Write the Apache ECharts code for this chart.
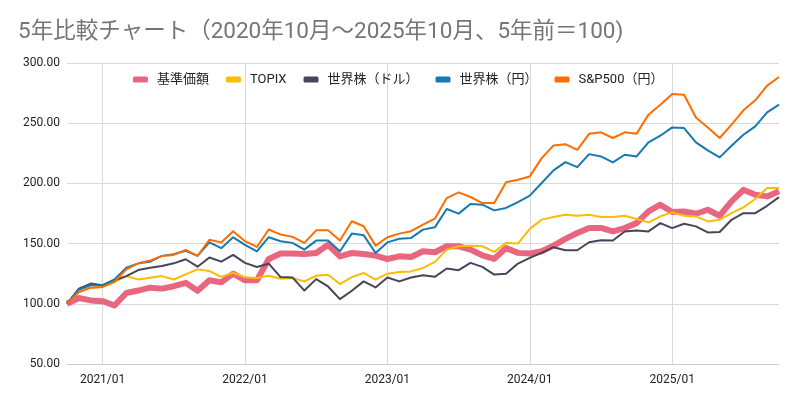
<!DOCTYPE html>
<html>
<head>
<meta charset="utf-8">
<script src="https://cdn.jsdelivr.net/npm/echarts@6/dist/echarts.min.js"></script>
<style>
html,body{margin:0;padding:0;background:#fff;}
#chart{width:800px;height:405px;}
</style>
</head>
<body>
<div id="chart"></div>
<script>
const categories = [
  '2020/10','2020/11','2020/12',
  '2021/01','2021/02','2021/03','2021/04','2021/05','2021/06','2021/07','2021/08','2021/09','2021/10','2021/11','2021/12',
  '2022/01','2022/02','2022/03','2022/04','2022/05','2022/06','2022/07','2022/08','2022/09','2022/10','2022/11','2022/12',
  '2023/01','2023/02','2023/03','2023/04','2023/05','2023/06','2023/07','2023/08','2023/09','2023/10','2023/11','2023/12',
  '2024/01','2024/02','2024/03','2024/04','2024/05','2024/06','2024/07','2024/08','2024/09','2024/10','2024/11','2024/12',
  '2025/01','2025/02','2025/03','2025/04','2025/05','2025/06','2025/07','2025/08','2025/09','2025/10'
];
const tickLabels = ['2021/01','2022/01','2023/01','2024/01','2025/01'];
const seriesNames = ['基準価額','TOPIX','世界株（ドル）','世界株（円）','S&P500（円）'];

const fund = [100,104.8,102.8,102.2,98.6,109,111,113.4,112.6,114.6,117.4,110.8,119.6,117.8,125,119.5,119.5,137.2,141.7,141.7,141.4,142.2,149,139.4,142.2,141.4,140,137.2,139.4,138.9,143.6,142.8,147.8,147.8,145,140.3,137.3,146.4,142.3,141.7,143.6,148.3,153.9,158.8,163,163,160.1,162.9,167,176.7,182.3,176.2,176.7,174.8,178.1,173.1,185,194.7,190.6,189.2,193.4];
const topix = [100,109.8,113.4,114,118.2,123,120.2,121.6,123,120.2,124.4,128.6,127.2,122.4,125.8,122,121.4,123.3,120.8,121.4,118.6,123.3,124.2,116.4,122.2,125.6,120,125,126.4,126.9,129.8,134.8,145,147.8,148.3,147.8,143.1,150.6,150,162.2,169.9,172.1,174,173.2,174,172.1,172,173.1,170.4,167.6,172.6,175.9,173.1,172.6,168.4,169.8,175.3,180.1,187,196.1,196.1];
const worldUsd = [100,112.6,116.8,115.4,119.6,123,128,130,131.4,133.6,137,130.8,138.4,135,140.6,134,130.6,133.3,122.2,121.9,111,120.5,114.4,103.9,110.8,118.6,113.6,121.9,118.6,121.9,123.8,122.4,129.3,127.9,134,130.7,124.3,124.9,133.4,138.1,142.3,147,144.5,144.5,151.1,152.7,152.6,160.1,160.9,160.1,167,162.9,166.5,164.3,159.3,159.6,169.8,175.3,175.3,181.4,188.6];
const worldJpy = [100,111.8,115.4,115.4,120.2,130,133.6,135,139.8,141.2,144,139.8,151,146.2,155.2,149,143.6,155.3,152,150.6,145,152.5,152.5,143.6,158.3,157,142.2,151,154,154.7,161.6,163.5,178.7,174.9,182.9,182.3,177.6,179.6,184.5,189.8,200.3,210.8,217.7,213.5,224.3,222.4,217.4,223.8,222.4,234.1,239.6,246.5,246,234.1,227.4,221.6,231.3,240.4,247.4,259,265.4];
const sp500Jpy = [100,109.8,113.4,114,118.2,128.6,133.6,135.9,139.8,140.6,144.8,139.8,153.2,151,160.2,152,147.2,161.7,157.5,155.6,150.6,161,161,152.5,168.6,164.4,148.3,155.3,158.3,160.3,165.8,170.7,187.8,192.5,188.7,183.7,183.7,201,203,205.8,221,231.5,232.6,227.9,241.2,242.4,237.7,242.4,241.3,257.1,265.4,274.2,273.7,254.8,246.5,237.7,248.8,260.7,269,281.2,288.4];

const colors = ['#e8667f','#fbbc04','#4a4458','#1779b0','#ff6d01'];
const widths = [6,2,2,2,2];
const dataSets = [fund, topix, worldUsd, worldJpy, sp500Jpy];

const font = 'Roboto, "Noto Sans CJK JP", sans-serif';
const isTick = (idx, val) => tickLabels.indexOf(categories[idx]) >= 0;

const chart = echarts.init(document.getElementById('chart'), null, {renderer:'canvas'});
chart.setOption({
  animation: false,
  backgroundColor: '#ffffff',
  color: colors,
  title: {
    text: '5年比較チャート（2020年10月～2025年10月、5年前＝100)',
    left: 13, top: 16,
    textStyle: {fontSize: 22.5, fontWeight: 'normal', color: '#757575', fontFamily: font}
  },
  legend: {
    top: 68, left: 128,
    icon: 'roundRect',
    itemWidth: 15, itemHeight: 6,
    itemGap: 17,
    textStyle: {fontSize: 13, color: '#222', fontFamily: font, padding: [0,0,0,4]},
    data: seriesNames
  },
  grid: {left: 67, right: 21, top: 63, bottom: 41, containLabel: false},
  xAxis: {
    type: 'category',
    data: categories,
    boundaryGap: false,
    axisLine: {lineStyle: {color: '#cccccc'}},
    axisTick: {show: false},
    axisLabel: {interval: isTick, fontSize: 12, color: '#222', fontFamily: font, margin: 10},
    splitLine: {show: true, interval: isTick, lineStyle: {color: '#d9d9d9'}}
  },
  yAxis: {
    type: 'value',
    min: 50, max: 300, interval: 50,
    axisLine: {show: false},
    axisTick: {show: false},
    axisLabel: {fontSize: 12, color: '#222', fontFamily: font, margin: 7, formatter: v => v.toFixed(2)},
    splitLine: {lineStyle: {color: '#d9d9d9'}}
  },
  series: dataSets.map((d, i) => ({
    name: seriesNames[i],
    type: 'line',
    data: d,
    symbol: 'none',
    lineStyle: {width: widths[i], color: colors[i], join: 'round'},
    itemStyle: {color: colors[i]},
    z: 2 + i
  }))
});
</script>
</body>
</html>
